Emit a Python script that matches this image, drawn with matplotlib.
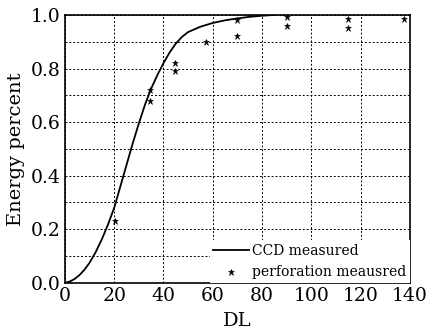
import numpy as np
import matplotlib.pyplot as plt

plt.rcParams['font.family'] = ['DejaVu Serif']
plt.rcParams['mathtext.fontset'] = 'dejavuserif'

# CCD measured curve
ccd_x = [0, 2, 4, 6, 8, 10, 12.5, 15, 17.5, 20, 22.5, 25, 27.5, 30, 32.5, 35,
         37.5, 40, 42.5, 45, 47.5, 50, 55, 60, 65, 70, 75, 80, 85]
ccd_y = [0.0, 0.005, 0.015, 0.03, 0.05, 0.075, 0.115, 0.163, 0.218, 0.28, 0.36,
         0.44, 0.52, 0.595, 0.665, 0.725, 0.775, 0.82, 0.86, 0.893, 0.918, 0.936,
         0.956, 0.97, 0.98, 0.987, 0.993, 0.997, 1.0]

# perforation measured points
perf_x = [20.2, 34.4, 34.4, 44.5, 44.5, 57.2, 70, 70, 90, 90, 115, 115, 137.6]
perf_y = [0.23, 0.72, 0.68, 0.822, 0.79, 0.90, 0.981, 0.92, 0.994, 0.96, 0.984, 0.95, 0.984]

fig = plt.figure(figsize=(4.3, 3.32), dpi=100)
ax = fig.add_axes([0.151, 0.148, 0.802, 0.807])

ax.plot(ccd_x, ccd_y, color='black', lw=1.3, label='CCD measured', zorder=3)
ax.plot(perf_x, perf_y, ls='none', marker='*', ms=5, color='black',
        mec='black', mew=0.4, label='perforation meausred', zorder=3)

ax.set_xlim(0, 140)
ax.set_ylim(0, 1.0)
ax.set_xticks(np.arange(0, 141, 20))
ax.set_yticks(np.arange(0, 1.01, 0.2))
ax.set_yticks(np.arange(0, 1.01, 0.1), minor=True)
ax.set_yticklabels(['0.0', '0.2', '0.4', '0.6', '0.8', '1.0'])
ax.grid(True, which='both', color='black', ls=(0, (2, 2)), lw=0.7)
ax.tick_params(which='both', direction='in', length=0, labelsize=13.5, pad=3)
for s in ax.spines.values():
    s.set_linewidth(1.2)

ax.set_xlabel('DL', fontsize=14, labelpad=5)
ax.set_ylabel('Energy percent', fontsize=14, labelpad=4)

leg = ax.legend(loc='lower right', fontsize=10, frameon=True, fancybox=False,
                borderpad=0.25, handlelength=2.6, handletextpad=0.2,
                labelspacing=0.55, borderaxespad=0.0, markerscale=1.0)
leg.get_frame().set_edgecolor('none')
leg.get_frame().set_alpha(1.0)

fig.savefig('out.png', dpi=100)
